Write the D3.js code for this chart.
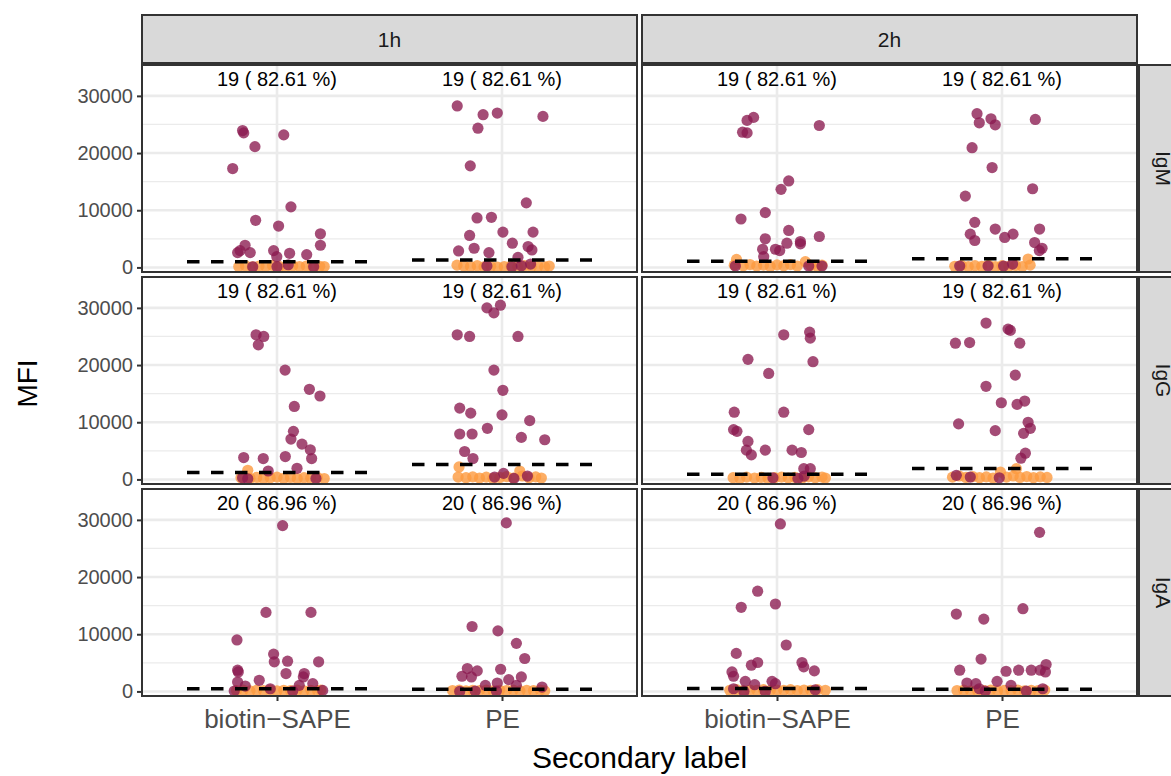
<!DOCTYPE html>
<html>
<head>
<meta charset="utf-8">
<script src="https://cdn.jsdelivr.net/npm/d3@7"></script>
<style>
  html, body { margin: 0; padding: 0; background: #ffffff; }
  svg { display: block; font-family: "Liberation Sans", Arial, Helvetica, sans-serif; }
</style>
</head>
<body>
<svg id="chart" width="1171" height="776"></svg>
<script>
// Facet levels and x categories
const timepoints = ["1h", "2h"];
const isotypes = ["IgM", "IgG", "IgA"];
const labels = ["biotin\u2212SAPE", "PE"];
const yTicks = [0, 10000, 20000, 30000];
const yMinorTicks = [5000, 15000, 25000];

// Positive samples per isotype (out of 23)
const totalSamples = 23;
const positiveCounts = [19, 19, 20];

// Cut-off MFI per panel: [isotype][timepoint][label]
const cutoffIgM = [[1000, 1300], [1100, 1500]];
const cutoffIgG = [[1200, 2600], [900, 1900]];
const cutoffIgA = [[450, 400], [500, 400]];

// Points: [jitter offset (category units), MFI]
// IgM
const igM1hBiotinPos = [[-0.153,23940],[-0.148,23530],[0.030,23180],[-0.098,21120],[-0.197,17290],[0.062,10590],[-0.095,8240],[0.007,7240],[0.193,5880],[0.193,3880],[-0.142,3880],[-0.164,2940],[-0.119,2590],[-0.015,2940],[0.056,2470],[0.132,2240],[-0.001,1880],[-0.175,2590],[-0.108,120],[0,120],[0.05,470],[0.163,120]];
const igM1hBiotinNeg = [[-0.17,150],[-0.14,300],[-0.11,100],[-0.08,250],[-0.05,150],[-0.02,350],[0.01,200],[0.04,100],[0.07,300],[0.1,150],[0.13,250],[0.16,100],[0.19,200],[0.21,150]];
const igM1hPEPos = [[-0.199,28240],[-0.084,26710],[-0.021,27000],[0.182,26410],[-0.107,24350],[-0.141,17760],[0.108,11290],[-0.111,8650],[-0.047,8760],[-0.144,5590],[0.004,6180],[0.138,6180],[-0.124,3350],[0.046,4240],[-0.193,2880],[0.116,3650],[0.133,3060],[-0.058,2590],[0.071,1760],[-0.067,240],[0.044,120],[0.086,290],[0.127,590]];
const igM1hPENeg = [[-0.2,400],[-0.17,250],[-0.14,150],[-0.11,300],[-0.08,100],[-0.05,200],[-0.02,50],[0.01,150],[0.04,250],[0.07,100],[0.1,300],[0.13,150],[0.16,200],[0.19,100],[0.21,250]];
const igM2hBiotinPos = [[-0.104,26240],[-0.133,25710],[-0.153,23650],[-0.133,23530],[0.188,24820],[0.052,15120],[0.018,13650],[-0.052,9590],[-0.16,8470],[0.052,6470],[-0.052,5000],[0.188,5410],[0.044,4240],[0.104,4530],[0.104,4120],[-0.064,3180],[-0.007,3180],[0.012,2940],[-0.059,1880],[-0.185,240],[0.141,240],[0.2,240]];
const igM2hBiotinNeg = [[-0.18,1400],[-0.19,400],[-0.15,300],[-0.12,500],[-0.09,250],[-0.06,400],[-0.03,200],[0,450],[0.03,300],[0.06,500],[0.09,250],[0.126,1000],[0.15,350],[0.18,200],[0.2,400]];
const igM2hPEPos = [[-0.111,26880],[-0.049,26000],[-0.101,25290],[-0.030,24940],[0.148,25880],[-0.133,20940],[-0.044,17470],[-0.163,12470],[0.136,13760],[-0.121,7880],[-0.030,6710],[-0.141,5820],[-0.121,4710],[0.012,5240],[0.049,5820],[0.167,6710],[0.145,4350],[0.178,3350],[0.166,2940],[-0.188,240],[-0.062,240],[0.007,240],[0.047,590]];
const igM2hPENeg = [[-0.21,200],[-0.18,350],[-0.15,150],[-0.12,300],[-0.09,200],[-0.06,400],[-0.03,150],[0,300],[0.03,200],[0.06,350],[0.09,150],[0.116,1470],[0.125,400]];
// IgG
const igG1hBiotinPos = [[-0.093,25290],[-0.059,25000],[-0.083,23530],[0.036,19120],[0.144,15760],[0.191,14590],[0.077,12760],[0.073,8410],[0.062,7060],[0.111,6180],[0.148,5180],[0.154,3650],[0.037,4000],[-0.148,3820],[-0.061,3650],[0.089,1940],[-0.039,1470],[-0.153,290],[-0.13,120],[0.173,180]];
const igG1hBiotinNeg = [[-0.13,1590],[-0.16,300],[-0.12,200],[-0.09,350],[-0.06,150],[-0.03,300],[0,400],[0.03,200],[0.06,350],[0.09,150],[0.12,300],[0.15,200],[0.18,350],[0.21,150]];
const igG1hPEPos = [[-0.067,30000],[-0.007,30470],[-0.036,29120],[-0.199,25290],[-0.144,25000],[0.071,25000],[-0.036,19120],[0.004,15590],[-0.188,12470],[-0.139,11590],[0,11290],[0.123,10290],[-0.065,8940],[-0.188,7940],[-0.133,7940],[0.086,7350],[0.19,6940],[-0.166,4880],[-0.129,3650],[-0.033,410],[0.007,1060],[0.053,180],[0.113,590]];
const igG1hPENeg = [[-0.191,2180],[-0.195,410],[-0.16,300],[-0.13,450],[-0.1,250],[-0.07,400],[-0.04,200],[-0.01,350],[0.02,500],[0.05,250],[0.079,1470],[0.09,600],[0.12,300],[0.15,450],[0.175,250]];
const igG2hBiotinPos = [[0.030,25290],[0.145,25760],[0.148,24710],[-0.129,21000],[0.16,20590],[-0.037,18530],[-0.19,11760],[0.03,11760],[-0.193,8710],[-0.178,8410],[0.141,8710],[-0.129,6650],[-0.136,5120],[-0.114,4290],[-0.052,5120],[0.067,5120],[0.108,4710],[0.119,1880],[0.148,1880],[-0.018,290],[0.093,180],[0.121,590]];
const igG2hBiotinNeg = [[-0.195,300],[-0.165,200],[-0.135,400],[-0.1,250],[-0.07,350],[-0.04,200],[-0.01,300],[0.02,400],[0.05,250],[0.08,350],[0.11,200],[0.14,450],[0.17,300],[0.2,400],[0.215,250]];
const igG2hPEPos = [[-0.071,27350],[0.027,26290],[0.037,26060],[-0.207,23820],[-0.144,23940],[0.079,23820],[0.059,18240],[-0.071,16290],[-0.003,13410],[0.067,13120],[0.101,13710],[-0.193,9710],[-0.03,8530],[0.116,10000],[0.126,8940],[0.096,8060],[0.104,4590],[0.084,3710],[-0.203,710],[-0.141,410],[-0.012,290]];
const igG2hPENeg = [[0.064,1880],[-0.007,1290],[-0.22,400],[-0.19,600],[-0.16,350],[-0.13,500],[-0.1,300],[-0.07,450],[-0.04,250],[0.02,400],[0.05,600],[0.08,350],[0.11,500],[0.14,300],[0.17,450],[0.2,350]];
// IgA
const igA1hBiotinPos = [[0.025,29000],[-0.049,13820],[0.151,13820],[-0.178,9000],[-0.015,6530],[-0.012,5180],[0.047,5290],[0.185,5180],[0.04,3120],[-0.175,3710],[-0.172,3410],[0.121,3120],[0.117,2530],[-0.079,1940],[-0.175,1650],[-0.141,940],[0.159,1350],[0.099,1060],[-0.03,470],[-0.19,60],[0.07,60],[0.203,180]];
const igA1hBiotinNeg = [[-0.18,150],[-0.15,250],[-0.12,100],[-0.09,200],[-0.06,150],[-0.03,250],[0,100],[0.03,200],[0.06,150],[0.09,250],[0.12,100],[0.15,200],[0.18,150],[0.195,250]];
const igA1hPEPos = [[0.019,29470],[-0.133,11350],[-0.018,10590],[0.064,8410],[0.101,5760],[-0.154,4000],[-0.110,3590],[-0.006,3880],[-0.178,2650],[-0.136,2530],[0.086,2530],[0.03,2060],[-0.021,1470],[-0.074,1060],[0.178,760],[0.064,1060],[-0.188,0],[-0.119,60],[-0.025,60]];
const igA1hPENeg = [[-0.22,150],[-0.19,250],[-0.16,100],[-0.13,200],[-0.1,150],[-0.07,250],[-0.04,100],[-0.01,200],[0.02,150],[0.05,250],[0.08,100],[0.11,200],[0.14,150],[0.17,250],[0.19,100]];
const igA2hBiotinPos = [[0.015,29290],[-0.086,17530],[-0.159,14710],[-0.007,15290],[0.041,8120],[-0.181,6650],[-0.114,4590],[-0.086,5060],[0.111,5060],[0.119,4290],[0.166,3590],[-0.2,3410],[-0.193,2650],[-0.141,1760],[-0.099,1180],[-0.022,1760],[-0.007,1350],[-0.193,470],[-0.147,0],[-0.052,0],[0.17,290]];
const igA2hBiotinNeg = [[-0.21,200],[-0.18,300],[-0.15,150],[-0.12,250],[-0.09,200],[-0.06,300],[-0.03,150],[0,250],[0.03,200],[0.06,300],[0.09,150],[0.12,250],[0.15,200],[0.18,300],[0.215,200]];
const igA2hPEPos = [[0.167,27820],[-0.203,13530],[-0.081,12650],[0.093,14470],[-0.093,5650],[-0.188,3710],[0.018,3530],[0.074,3710],[0.130,3710],[0.170,3710],[0.193,3410],[0.196,4710],[-0.156,1470],[-0.116,1350],[-0.022,1760],[0.04,1060],[-0.101,470],[-0.074,60],[0.108,60],[0.181,470]];
const igA2hPENeg = [[-0.2,150],[-0.17,250],[-0.14,100],[-0.11,200],[-0.08,150],[-0.05,250],[-0.02,100],[0.01,200],[0.04,150],[0.07,250],[0.1,100],[0.13,200],[0.16,150],[0.19,250]];

// Panel lookup: [isotype][timepoint][label]
const positives = [
  [[igM1hBiotinPos, igM1hPEPos], [igM2hBiotinPos, igM2hPEPos]],
  [[igG1hBiotinPos, igG1hPEPos], [igG2hBiotinPos, igG2hPEPos]],
  [[igA1hBiotinPos, igA1hPEPos], [igA2hBiotinPos, igA2hPEPos]]
];
const negatives = [
  [[igM1hBiotinNeg, igM1hPENeg], [igM2hBiotinNeg, igM2hPENeg]],
  [[igG1hBiotinNeg, igG1hPENeg], [igG2hBiotinNeg, igG2hPENeg]],
  [[igA1hBiotinNeg, igA1hPENeg], [igA2hBiotinNeg, igA2hPENeg]]
];
const cutoffs = [cutoffIgM, cutoffIgG, cutoffIgA];

// Layout
const colX = [[142, 637], [642, 1137]];
const rowY = [[65, 272], [277, 484], [489, 696]];
const stripTop = [15, 63];
const stripRight = [1139, 1187];
const yDomain = [-800, 35400];

const posColor = "#8a1a4f";
const negColor = "#fd9a3e";
const borderColor = "#333333";

const svg = d3.select("#chart");
svg.append("rect").attr("width", 1171).attr("height", 776).attr("fill", "#ffffff");

const fmtPct = n => `${n} ( ${(n / totalSamples * 100).toFixed(2)} %)`;

isotypes.forEach((iso, r) => {
  const [y0, y1] = rowY[r];
  const y = d3.scaleLinear().domain(yDomain).range([y1, y0]);

  timepoints.forEach((tp, c) => {
    const [x0, x1] = colX[c];
    const x = d3.scalePoint().domain(labels).range([x0, x1]).padding(0.6);
    const step = x.step();

    const g = svg.append("g");
    // background
    g.append("rect").attr("x", x0).attr("y", y0).attr("width", x1 - x0).attr("height", y1 - y0).attr("fill", "#ffffff");

    // grid
    g.selectAll(".minor").data(yMinorTicks).join("line")
      .attr("x1", x0).attr("x2", x1).attr("y1", d => y(d)).attr("y2", d => y(d))
      .attr("stroke", "#ebebeb").attr("stroke-width", 1.3);
    g.selectAll(".major").data(yTicks).join("line")
      .attr("x1", x0).attr("x2", x1).attr("y1", d => y(d)).attr("y2", d => y(d))
      .attr("stroke", "#ebebeb").attr("stroke-width", 2.6);
    g.selectAll(".vmajor").data(labels).join("line")
      .attr("x1", d => x(d)).attr("x2", d => x(d)).attr("y1", y0).attr("y2", y1)
      .attr("stroke", "#ebebeb").attr("stroke-width", 2.6);

    labels.forEach((lab, k) => {
      const cx = x(lab);
      // negative samples
      g.append("g").selectAll("circle").data(negatives[r][c][k]).join("circle")
        .attr("cx", d => cx + d[0] * step).attr("cy", d => y(d[1])).attr("r", 5.6)
        .attr("fill", negColor).attr("fill-opacity", 0.8);
      // positive samples
      g.append("g").selectAll("circle").data(positives[r][c][k]).join("circle")
        .attr("cx", d => cx + d[0] * step).attr("cy", d => y(d[1])).attr("r", 5.6)
        .attr("fill", posColor).attr("fill-opacity", 0.78);
      // cut-off line
      const cut = cutoffs[r][c][k];
      g.append("line")
        .attr("x1", cx - 0.4 * step).attr("x2", cx + 0.4 * step)
        .attr("y1", y(cut)).attr("y2", y(cut))
        .attr("stroke", "#000000").attr("stroke-width", 3.5)
        .attr("stroke-dasharray", "12.5,11.5");
      // count label
      g.append("text")
        .attr("x", cx).attr("y", y(33000))
        .attr("text-anchor", "middle").attr("dominant-baseline", "central")
        .attr("font-size", 20).attr("fill", "#000000")
        .text(fmtPct(positiveCounts[r]));
    });

    // panel border
    g.append("rect").attr("x", x0).attr("y", y0).attr("width", x1 - x0).attr("height", y1 - y0)
      .attr("fill", "none").attr("stroke", borderColor).attr("stroke-width", 2);

    // x axis on bottom row
    if (r === isotypes.length - 1) {
      const ax = svg.append("g").attr("transform", `translate(0,${y1})`)
        .call(d3.axisBottom(x).tickSize(5).tickPadding(9));
      ax.select(".domain").remove();
      ax.selectAll("line").attr("stroke", borderColor).attr("stroke-width", 2);
      ax.selectAll("text").attr("font-size", 26).attr("fill", "#4d4d4d")
        .attr("font-family", "Liberation Sans, Arial, sans-serif");
    }
    // top strip
    if (r === 0) {
      svg.append("rect").attr("x", x0).attr("y", stripTop[0]).attr("width", x1 - x0)
        .attr("height", stripTop[1] - stripTop[0])
        .attr("fill", "#d9d9d9").attr("stroke", borderColor).attr("stroke-width", 2);
      svg.append("text").attr("x", (x0 + x1) / 2).attr("y", (stripTop[0] + stripTop[1]) / 2)
        .attr("text-anchor", "middle").attr("dominant-baseline", "central")
        .attr("font-size", 21).attr("fill", "#1a1a1a").text(tp);
    }
  });

  // y axis on each row
  const ay = svg.append("g").attr("transform", `translate(${colX[0][0]},0)`)
    .call(d3.axisLeft(y).tickValues(yTicks).tickFormat(d3.format("d")).tickSize(5).tickPadding(4));
  ay.select(".domain").remove();
  ay.selectAll("line").attr("stroke", borderColor).attr("stroke-width", 2);
  ay.selectAll("text").attr("font-size", 20).attr("fill", "#4d4d4d")
    .attr("font-family", "Liberation Sans, Arial, sans-serif");

  // right strip
  svg.append("rect").attr("x", stripRight[0]).attr("y", y0).attr("width", stripRight[1] - stripRight[0])
    .attr("height", y1 - y0).attr("fill", "#d9d9d9").attr("stroke", borderColor).attr("stroke-width", 2);
  const sx = (stripRight[0] + stripRight[1]) / 2, sy = (y0 + y1) / 2;
  svg.append("text").attr("transform", `translate(${sx},${sy}) rotate(90)`)
    .attr("text-anchor", "middle").attr("dominant-baseline", "central")
    .attr("font-size", 21).attr("fill", "#1a1a1a").text(iso);
});

// axis titles
svg.append("text").attr("x", (colX[0][0] + colX[1][1]) / 2).attr("y", 757)
  .attr("text-anchor", "middle").attr("dominant-baseline", "central")
  .attr("font-size", 30).attr("fill", "#000000").text("Secondary label");
svg.append("text").attr("transform", `translate(27,${(rowY[0][0] + rowY[2][1]) / 2 + 3}) rotate(-90)`)
  .attr("text-anchor", "middle").attr("dominant-baseline", "central")
  .attr("font-size", 28).attr("fill", "#000000").text("MFI");
</script>
</body>
</html>
